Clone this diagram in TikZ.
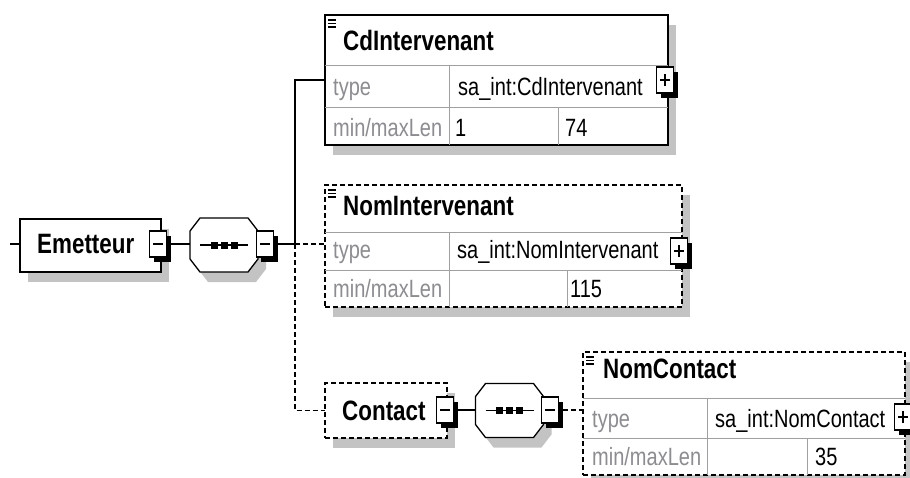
\documentclass[tikz,border=0pt]{standalone}
\usepackage{fontspec}
\setmainfont[FakeStretch=0.8]{Liberation Sans}
\usetikzlibrary{shadows}
\definecolor{shgray}{RGB}{195,195,195}
\definecolor{gridgray}{RGB}{160,160,160}
\definecolor{typegray}{RGB}{140,140,145}
\newcommand\octagonpath[1]{([xshift=10pt]#1.north west) -- ([xshift=-10pt]#1.north east) -- ([yshift=-13pt]#1.north east) -- ([yshift=13pt]#1.south east) -- ([xshift=-10pt]#1.south east) -- ([xshift=10pt]#1.south west) -- ([yshift=13pt]#1.south west) -- ([yshift=-13pt]#1.north west) -- cycle}
\begin{document}
\begin{tikzpicture}[x=1pt,y=-1pt,
  gshadow/.style={drop shadow={shadow xshift=8pt,shadow yshift=-10pt,fill=shgray,opacity=1}},
  elem/.style={draw=black,line width=1.6pt,fill=white,rectangle,anchor=north west,inner sep=0pt,outer sep=0pt,gshadow},
  optelem/.style={elem,dash pattern=on 5pt off 3pt},
  sbox/.style={draw=black,line width=1.5pt,fill=white,rectangle,minimum width=17pt,minimum height=26pt,inner sep=0pt,outer sep=0pt,
     preaction={fill=black,transform canvas={shift={(4.5pt,-4.5pt)}}}},
  oct/.style={rectangle,minimum width=68pt,minimum height=54pt,inner sep=0pt,outer sep=0pt},
  octline/.style={draw=black,line width=1.3pt,fill=white},
  grid/.style={draw=gridgray,line width=1pt},
  conn/.style={draw=black,line width=1.5pt},
  optconn/.style={conn,dash pattern=on 5pt off 3pt},
  htxt/.style={anchor=base west,inner sep=0pt,font=\fontsize{28}{30}\selectfont\bfseries,text=black},
  ttxt/.style={anchor=base west,inner sep=0pt,font=\fontsize{25}{27}\selectfont,text=typegray},
  vtxt/.style={anchor=base west,inner sep=0pt,font=\fontsize{25}{27}\selectfont,text=black},
  icon/.style={draw=black,line width=1.1pt},
  dot/.style={fill=black,draw=none,rectangle,minimum width=7pt,minimum height=7pt,inner sep=0pt}
]
\useasboundingbox (0,0) rectangle (910,477);

% ---------- element boxes ----------
\node[elem,minimum width=141pt,minimum height=53pt] (em) at (20,219) {};
\node[elem,minimum width=343pt,minimum height=130pt] (cd) at (325,15) {};
\node[optelem,minimum width=357pt,minimum height=122pt] (ni) at (325,185) {};
\node[optelem,minimum width=122pt,minimum height=55pt] (ct) at (325,383) {};
\node[optelem,minimum width=322pt,minimum height=123pt] (nc) at (583,352) {};

% ---------- grids ----------
\draw[grid] (325,65) -- (668,65) (325,107) -- (668,107) (449,65) -- (449,145) (558,107) -- (558,145);
\draw[grid] (325,232) -- (682,232) (325,270) -- (682,270) (449,232) -- (449,307) (567,270) -- (567,307);
\draw[grid] (583,398) -- (905,398) (583,438) -- (905,438) (707,398) -- (707,475) (807,438) -- (807,475);

% ---------- icons ----------
\draw[icon] (328,20) -- (336,20) (328,23.5) -- (336,23.5) (328,27) -- (336,27);
\draw[icon] (328,190) -- (336,190) (328,193.5) -- (336,193.5) (328,197) -- (336,197);
\draw[icon] (586,357) -- (594,357) (586,360.5) -- (594,360.5) (586,364) -- (594,364);

% ---------- texts ----------
\node[htxt] (t-em) at (37,253) {Emetteur};
\node[htxt] (t-cd) at (343,50) {CdIntervenant};
\node[ttxt] (t-cd1) at (333,95) {type};
\node[vtxt] (t-cd2) at (458,95) {sa\_int:CdIntervenant};
\node[ttxt] (t-cd3) at (333,136) {min/maxLen};
\node[vtxt] (t-cd4) at (455,136) {1};
\node[vtxt] (t-cd5) at (565,136) {74};
\node[htxt] (t-ni) at (343,215) {NomIntervenant};
\node[ttxt] (t-ni1) at (333,258) {type};
\node[vtxt] (t-ni2) at (457,258) {sa\_int:NomIntervenant};
\node[ttxt] (t-ni3) at (333,297) {min/maxLen};
\node[vtxt] (t-ni5) at (570,297) {115};
\node[htxt] (t-ct) at (342,420) {Contact};
\node[htxt] (t-nc) at (603,378) {NomContact};
\node[ttxt] (t-nc1) at (592,427) {type};
\node[vtxt] (t-nc2) at (715,427) {sa\_int:NomContact};
\node[ttxt] (t-nc3) at (592,465) {min/maxLen};
\node[vtxt] (t-nc5) at (815,465) {35};

% ---------- sequence compositors ----------
\node[oct] (s1) at (224,245) {};
\node[oct] (s2) at (509.5,410.5) {};
\foreach \s in {s1,s2}{
  \fill[shgray,transform canvas={shift={(8pt,-10pt)}}] \octagonpath{\s};
  \filldraw[octline] \octagonpath{\s};
  \draw[line width=1.5pt] ([xshift=-24pt]\s.center) -- ([xshift=24pt]\s.center);
  \node[dot] at ([xshift=-10pt]\s.center) {};
  \node[dot] at (\s.center) {};
  \node[dot] at ([xshift=10pt]\s.center) {};
}

% ---------- minus / plus boxes ----------
\node[sbox] (m1) at (158,244) {};
\node[sbox] (m2) at (265,244) {};
\node[sbox] (m3) at (445,410) {};
\node[sbox] (m4) at (550,410) {};
\node[sbox] (p1) at (665,80) {};
\node[sbox] (p2) at (679,251) {};
\node[sbox] (p3) at (903,417) {};
\foreach \m in {m1,m2,m3,m4,p1,p2,p3}{
  \draw[line width=1.2pt] ([xshift=-5pt]\m.center) -- ([xshift=5pt]\m.center);
}
\foreach \p in {p1,p2,p3}{
  \draw[line width=1.2pt] ([yshift=-6pt]\p.center) -- ([yshift=6pt]\p.center);
}

% ---------- connectors ----------
\coordinate (in) at (10,244);
\coordinate (br) at (295,244);
\draw[conn] (in) -- (em.west |- in);
\draw[conn] ([xshift=4.5pt]m1.east) -- (s1.west |- m1.east);
\draw[conn] ([xshift=4.5pt]m2.east) -- (br);
\draw[conn] (br) |- (cd.west |- 0,80);
\draw[optconn] (br) -- (ni.west |- br);
\draw[optconn] (br) |- (ct.west);
\draw[conn] ([xshift=4.5pt]m3.east) -- (s2.west |- m3.east);
\draw[optconn] ([xshift=4.5pt]m4.east) -- (nc.west |- m4.east);
\end{tikzpicture}
\end{document}
